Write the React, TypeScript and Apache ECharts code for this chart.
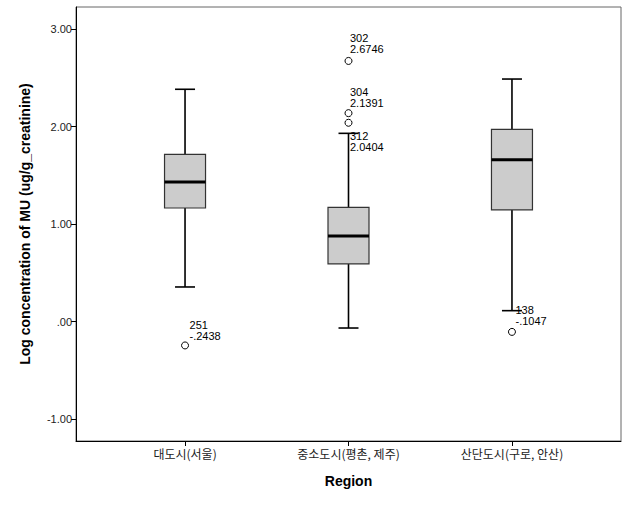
import React, { useEffect, useRef } from "react";
import * as echarts from "echarts";

const categories = ["대도시(서울)", "중소도시(평촌, 제주)", "산단도시(구로, 안산)"];
// [low whisker, Q1, median, Q3, high whisker]
const boxStats = [
  [0.356, 1.166, 1.433, 1.717, 2.384],
  [-0.065, 0.592, 0.879, 1.173, 1.932],
  [0.113, 1.146, 1.662, 1.973, 2.489],
];
// outliers: [category index, value, case id, label text]
const outliers: [number, number, string, string][] = [
  [0, -0.2438, "251", "-.2438"],
  [1, 2.6746, "302", "2.6746"],
  [1, 2.1391, "304", "2.1391"],
  [1, 2.0404, "312", "2.0404"],
  [2, -0.1047, "138", "-.1047"],
];
const yTicks = [-1, 0, 1, 2, 3];
const yTickLabels = ["-1.00", ".00", "1.00", "2.00", "3.00"];

// label offsets (pixels) relative to the outlier marker
const labelOffsets: Record<string, [number, number]> = {
  "251": [5, -25],
  "302": [2, -28],
  "304": [2, -26],
  "312": [2, 8],
  "138": [4, -27],
};

export default function App() {
  const ref = useRef<HTMLDivElement>(null);
  useEffect(() => {
    if (!ref.current) return;
    const chart = echarts.init(ref.current, undefined, { renderer: "svg" });
    const font = "'Liberation Sans', Arial, sans-serif";
    const boxData = boxStats.map((s, i) => [i, ...s]);
    chart.setOption({
      animation: false,
      backgroundColor: "#ffffff",
      grid: {
        left: 76,
        right: 10,
        top: 7,
        bottom: 65,
        show: true,
        borderColor: "#666",
        borderWidth: 1,
        containLabel: false,
      },
      xAxis: {
        type: "value",
        min: -0.667,
        max: 2.667,
        name: "Region",
        nameLocation: "middle",
        nameGap: 33,
        nameTextStyle: { fontFamily: font, fontSize: 14, fontWeight: "bold", color: "#000" },
        splitLine: { show: false },
        axisLine: { show: true, onZero: false, lineStyle: { color: "#000", width: 1 } },
        axisTick: {
          show: true,
          length: 5,
          customValues: [0, 1, 2],
          lineStyle: { color: "#000" },
        },
        axisLabel: {
          customValues: [0, 1, 2],
          formatter: (v: number) => categories[Math.round(v)] ?? "",
          fontFamily: "'Noto Sans CJK KR', sans-serif",
          fontSize: 12,
          color: "#222",
          margin: 6,
        },
      },
      yAxis: {
        type: "value",
        min: -1.224,
        max: 3.228,
        name: "Log concentration of MU (ug/g_creatinine)",
        nameLocation: "middle",
        nameGap: 44,
        nameTextStyle: { fontFamily: font, fontSize: 14, fontWeight: "bold", color: "#000" },
        splitLine: { show: false },
        axisLine: { show: true, onZero: false, lineStyle: { color: "#000", width: 1 } },
        axisTick: {
          show: true,
          length: 5,
          customValues: yTicks,
          lineStyle: { color: "#000" },
        },
        axisLabel: {
          customValues: yTicks,
          formatter: (v: number) => {
            const i = yTicks.findIndex((t) => Math.abs(t - v) < 1e-6);
            return i >= 0 ? yTickLabels[i] : "";
          },
          fontFamily: font,
          fontSize: 11,
          color: "#222",
          margin: 4,
        },
      },
      series: [
        {
          type: "custom",
          data: boxData,
          encode: { x: 0, y: [1, 2, 3, 4, 5] },
          renderItem: (params: any, api: any) => {
            const x = api.value(0);
            const low = api.coord([x, api.value(1)]);
            const q1 = api.coord([x, api.value(2)]);
            const med = api.coord([x, api.value(3)]);
            const q3 = api.coord([x, api.value(4)]);
            const high = api.coord([x, api.value(5)]);
            const cx = low[0];
            const bw = 41;
            const cw = 20;
            const wStyle = { stroke: "#000", lineWidth: 1.6 };
            return {
              type: "group",
              children: [
                { type: "line", shape: { x1: cx, y1: high[1], x2: cx, y2: q3[1] }, style: wStyle },
                { type: "line", shape: { x1: cx, y1: q1[1], x2: cx, y2: low[1] }, style: wStyle },
                { type: "line", shape: { x1: cx - cw / 2, y1: high[1], x2: cx + cw / 2, y2: high[1] }, style: wStyle },
                { type: "line", shape: { x1: cx - cw / 2, y1: low[1], x2: cx + cw / 2, y2: low[1] }, style: wStyle },
                {
                  type: "rect",
                  shape: { x: cx - bw / 2, y: q3[1], width: bw, height: q1[1] - q3[1] },
                  style: { fill: "#cccccc", stroke: "#333", lineWidth: 1.2 },
                },
                {
                  type: "line",
                  shape: { x1: cx - bw / 2, y1: med[1], x2: cx + bw / 2, y2: med[1] },
                  style: { stroke: "#000", lineWidth: 3 },
                },
              ],
            };
          },
          z: 2,
        },
        {
          type: "scatter",
          symbol: "circle",
          symbolSize: 7,
          itemStyle: { color: "#fff", borderColor: "#000", borderWidth: 1, opacity: 1 },
          z: 3,
          data: outliers.map(([ci, v, id, txt]) => {
            const off = labelOffsets[id] || [5, -26];
            return {
              value: [ci, v],
              label: {
                show: true,
                formatter: id + "\n" + txt,
                position: [off[0] + 3.5, off[1] + 3.5],
                align: "left",
                verticalAlign: "top",
                fontFamily: font,
                fontSize: 11,
                lineHeight: 11,
                color: "#000",
              },
            };
          }),
        },
      ],
    });
    return () => chart.dispose();
  }, []);
  return (
    <div
      ref={ref}
      style={{ position: "absolute", left: 0, top: 0, width: 631, height: 506 }}
    />
  );
}
